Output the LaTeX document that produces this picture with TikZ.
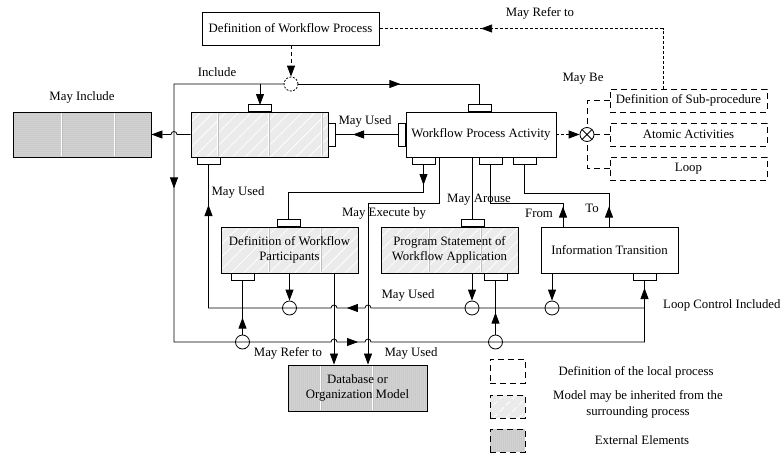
\documentclass[tikz,border=0pt]{standalone}
\usepackage{fontspec}
\setmainfont{Liberation Serif}
\usetikzlibrary{arrows.meta,patterns.meta,decorations.markings}
\begin{document}
\begin{tikzpicture}[x=1pt,y=-1pt,
  every node/.style={font=\fontsize{12.8}{15.5}\selectfont},
  ln/.style={line width=0.8pt},
  box/.style={draw, line width=0.9pt, inner sep=0pt, align=center},
  hatchfill/.style={fill=black!8, postaction={pattern={Lines[angle=45,distance=9pt,line width=0.8pt]}, pattern color=white}, postaction={draw}},
  dotfill/.style={fill=black!22, postaction={pattern={Dots[distance=2pt,radius=0.5pt]}, pattern color=white}, postaction={draw}},
  dbox/.style={draw, line width=0.9pt, dash pattern=on 6pt off 4pt, inner sep=0pt, align=center},
  tab/.style={draw, fill=white, line width=0.8pt, minimum width=23pt, minimum height=7pt, inner sep=0pt},
  vtab/.style={draw, fill=white, line width=0.8pt, minimum width=7pt, minimum height=23pt, inner sep=0pt},
  jc/.style={draw, circle, line width=0.8pt, minimum size=14pt, inner sep=0pt},
  arr/.style={-{Triangle[length=11pt,width=8pt]}},
  ma/.style={postaction={decorate,decoration={markings,mark=at position #1 with {\arrow{Triangle[length=11pt,width=8pt]}}}}},
  lbl/.style={inner sep=0pt},
  divider/.style={white, line width=1.2pt, postaction={draw=black!25, line width=0.4pt}}
]
\useasboundingbox (0,0) rectangle (780,453);

% main boxes
\node[box, minimum width=177pt, minimum height=33pt] (dwp) at (290.5,28.5) {Definition of Workflow Process};
\node[box, dotfill, minimum width=138pt, minimum height=45pt] (mi) at (82,134.5) {};
\node[box, hatchfill, minimum width=137pt, minimum height=45pt] (sp) at (259.5,134.5) {};
\node[box, minimum width=150pt, minimum height=45pt] (wpa) at (481,134.5) {Workflow Process Activity};
\node[box, hatchfill, minimum width=137pt, minimum height=46pt] (dpart) at (289.5,250) {};
\node[box, hatchfill, minimum width=137pt, minimum height=46pt] (prog) at (449.5,250) {};
\node[box, minimum width=137pt, minimum height=46pt] (it) at (609.5,250) {Information Transition};
\node[box, dotfill, minimum width=139pt, minimum height=46pt] (db) at (357.5,388) {};
\node[dbox, minimum width=157pt, minimum height=23pt] (sub) at (688.5,100.5) {Definition of Sub-procedure};
\node[dbox, minimum width=157pt, minimum height=23pt] (atom) at (688.5,134.5) {Atomic Activities};
\node[dbox, minimum width=157pt, minimum height=23pt] (loop) at (688.5,168.5) {Loop};

% dividers
\foreach \x in {62,115} \draw[divider] (\x,113) -- (\x,156);
\foreach \x in {218,269,322} \draw[divider] (\x,113) -- (\x,156);
\foreach \x in {269,321} \draw[divider] (\x,228) -- (\x,272);
\foreach \x in {429,481} \draw[divider] (\x,228) -- (\x,272);
\foreach \x in {321,373} \draw[divider] (\x,366) -- (\x,410);

% texts of filled boxes (over dividers)
\node[lbl, align=center] (dpartt) at (dpart) {Definition of Workflow\\Participants};
\node[lbl, align=center] (progt) at (prog) {Program Statement of\\Workflow Application};
\node[lbl, align=center] (dbt) at (db) {Database or\\Organization Model};

% junction circles
\node[jc, dash pattern=on 2pt off 1.5pt] (c0) at (291,84) {};
\node[jc] (cx) at (587,134.5) {};
\draw[ln] (cx.north west) -- (cx.south east) (cx.north east) -- (cx.south west);
\node[jc] (cA) at (289.5,308) {};
\node[jc] (cB) at (472,308) {};
\node[jc] (cC) at (552,308) {};
\node[jc] (cD) at (242.5,342) {};
\node[jc] (cE) at (495.5,342) {};
\coordinate (j1) at (644.5,308);

% connectors
\draw[ln, dash pattern=on 4pt off 3pt, arr] (c0 |- dwp.south) -- (c0.north);
\draw[ln, ma=102pt] (c0.east) -- (479.5,84) -- (479.5,105);
\draw[ln, arr] (260,84) -- (260,105);
\draw[ln, ma=214pt, ma=555pt, ma=-8pt] (c0.west) -- (174,84) -- (174,342) -- (331,342)
   arc[start angle=180,end angle=360,radius=3] -- (365,342)
   arc[start angle=180,end angle=360,radius=3] -- (644.5,342) -- (644.5,280);
\draw[ln, ma=301pt, ma=-41pt] (j1) -- (371,308) arc[start angle=0,end angle=-180,radius=3]
   -- (337,308) arc[start angle=0,end angle=-180,radius=3] -- (208.5,308) -- (208.5,164);
\draw[ln, arr] (sp.west) -- (177,134.5) arc[start angle=0,end angle=-180,radius=3] -- (mi.east);
\draw[ln, ma=46pt] (399,134.5) -- (335,134.5);
\draw[ln, ma=21pt] (423.5,164) -- (423.5,192) -- (288.5,192) -- (288.5,220);
\draw[ln, arr] ([xshift=-42pt]wpa.south) |- (368,203) -- ([xshift=10.5pt]db.north);
\draw[ln] (472.5,157) -- (472.5,220);
\draw[ln, ma=20pt] ([xshift=-46.5pt]it.north) |- (490.5,203) -- (490.5,164);
\draw[ln, ma=20pt] ([xshift=-0.5pt]it.north) |- (524.5,193) -- (524.5,164);
\draw[ln, arr] (dpart.south) -- (cA.north);
\draw[ln, arr] ([xshift=22.5pt]prog.south) -- (cB.north);
\draw[ln, arr] ([xshift=-57.5pt]it.south) -- (cC.north);
\draw[ln, ma=17pt] (cD.north) -- (242.5,280);
\draw[ln, ma=22pt] (cE.north) -- (495.5,280);
\draw[ln, arr] ([xshift=44.5pt]dpart.south) -- ([xshift=-23.5pt]db.north);
\draw[ln, dash pattern=on 3pt off 2pt, ma=242pt] ([xshift=-25.5pt]sub.north) |- (dwp.east);
\draw[ln, dash pattern=on 3pt off 2pt, arr] (wpa.east) -- (cx.west);
\draw[ln, dash pattern=on 6pt off 4pt] (sub.west) -| (cx.north);
\draw[ln, dash pattern=on 6pt off 4pt] (loop.west) -| (cx.south);
\draw[ln, dash pattern=on 6pt off 4pt] (cx.east) -- (atom.west);

% tabs
\node[tab, anchor=south] (sptt) at (260,112) {};
\node[vtab, anchor=west] (sprt) at (328,134.5) {};
\node[tab, anchor=north] (spbt) at (208.5,157) {};
\node[vtab, anchor=east] (wplt) at (406,134.5) {};
\node[tab, anchor=south] (wptt) at (479.5,112) {};
\node[tab, anchor=north] (wpb1) at (423.5,157) {};
\node[tab, anchor=north] (wpb2) at (490.5,157) {};
\node[tab, anchor=north] (wpb3) at (524.5,157) {};
\node[tab, anchor=south] (dptt) at (288.5,227) {};
\node[tab, anchor=north] (dpbt) at (242.5,273) {};
\node[tab, anchor=south] (prtt) at (472.5,227) {};
\node[tab, anchor=north] (prbt) at (495.5,273) {};
\node[tab, anchor=north] (itbt) at (644.5,273) {};

% labels
\node[lbl] (l1) at (540,13) {May Refer to};
\node[lbl] (l2) at (217,72) {Include};
\node[lbl] (l3) at (82,97) {May Include};
\node[lbl] (l4) at (365,121) {May Used};
\node[lbl] (l5) at (583,79) {May Be};
\node[lbl] (l6) at (238,192) {May Used};
\node[lbl] (l7) at (384,213) {May Execute by};
\node[lbl] (l8) at (479,200) {May Arouse};
\node[lbl] (l9) at (539,213) {From};
\node[lbl] (l10) at (592,208) {To};
\node[lbl] (l11) at (408,295) {May Used};
\node[lbl, anchor=west] (l12) at (663,305) {Loop Control Included};
\node[lbl] (l13) at (288,353) {May Refer to};
\node[lbl] (l14) at (411,353) {May Used};

% legend
\node[dbox, minimum width=35pt, minimum height=24pt] (lg1) at (507.5,371) {};
\node[dbox, hatchfill, minimum width=35pt, minimum height=23pt] (lg2) at (507.5,406.5) {};
\node[dbox, dotfill, minimum width=35pt, minimum height=23pt] (lg3) at (507.5,440.5) {};
\node[lbl] (lt1) at (636,372) {Definition of the local process};
\node[lbl, align=center] (lt2) at (638,404.5) {Model may be inherited from the\\surrounding process};
\node[lbl] (lt3) at (642,440) {External Elements};
\end{tikzpicture}
\end{document}
